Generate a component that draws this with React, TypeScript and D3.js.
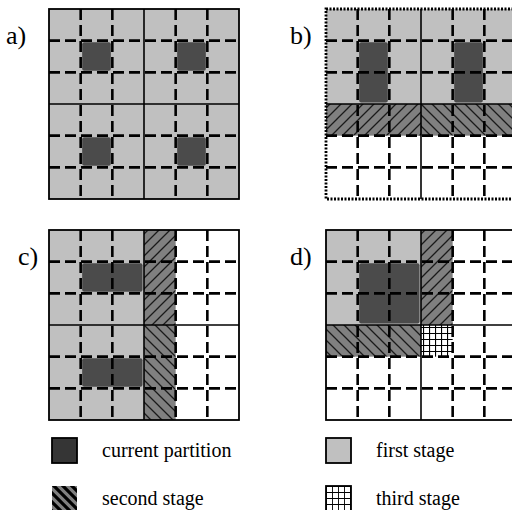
import React from "react";
import * as d3 from "d3";

type Rect = [number, number, number, number];

const panelLabels = ["a)", "b)", "c)", "d)"];
const panelOrigins: [number, number][] = [[49, 9], [326, 9], [49, 230], [326, 230]];
const labelPos: [number, number][] = [[6, 44], [290, 44], [18, 265], [290, 265]];

const greyRects: Rect[][] = [
  [[0, 0, 6, 6]],
  [[0, 0, 6, 3]],
  [[0, 0, 3, 6]],
  [[0, 0, 3, 3]],
];
const hatchFwdRects: Rect[][] = [[], [[0, 3, 3, 4]], [[3, 0, 4, 3]], [[3, 0, 4, 3]]];
const hatchBackRects: Rect[][] = [[], [[3, 3, 6, 4]], [[3, 3, 4, 6]], [[0, 3, 3, 4]]];
const crossRects: Rect[][] = [[], [], [], [[3, 3, 4, 4]]];
const darkRects: Rect[][] = [
  [[1, 1, 2, 2], [4, 1, 5, 2], [1, 4, 2, 5], [4, 4, 5, 5]],
  [[1, 1, 2, 3], [4, 1, 5, 3]],
  [[1, 1, 3, 2], [1, 4, 3, 5]],
  [[1, 1, 3, 3]],
];
const dottedBorder = [false, true, false, false];
const dashedLines = [1, 2, 4, 5];

const legendLabels = ["current partition", "first stage", "second stage", "third stage"];
const legendFills = ["#353535", "#c0c0c0", "url(#legHatch)", "url(#legCross)"];
const legendPos: [number, number][] = [[52, 438], [326, 438], [52, 486], [326, 486]];

const SIZE = 190;
const GREY = "#c0c0c0";
const DARK = "#4b4b4b";

export default function App() {
  const s = d3.scaleLinear().domain([0, 6]).range([0, SIZE]);
  const rectEl = (r: Rect, fill: string, key: string, inset = 0) => (
    <rect
      key={key}
      x={s(r[0]) + inset}
      y={s(r[1]) + inset}
      width={s(r[2]) - s(r[0]) - 2 * inset}
      height={s(r[3]) - s(r[1]) - 2 * inset}
      fill={fill}
      rx={inset ? 2 : 0}
    />
  );
  return (
    <svg width={512} height={510} style={{ position: "absolute", left: 0, top: 0 }}>
      <defs>
        <pattern id="hatchFwd" patternUnits="userSpaceOnUse" width={11} height={11}>
          <rect width={11} height={11} fill="#808080" />
          <path d="M-2,2 L2,-2 M0,11 L11,0 M9,13 L13,9" stroke="#1a1a1a" strokeWidth={1.3} />
        </pattern>
        <pattern id="hatchBack" patternUnits="userSpaceOnUse" width={11} height={11}>
          <rect width={11} height={11} fill="#808080" />
          <path d="M-2,9 L2,13 M0,0 L11,11 M9,-2 L13,2" stroke="#1a1a1a" strokeWidth={1.3} />
        </pattern>
        <pattern id="cross" patternUnits="userSpaceOnUse" width={6} height={6} x={1} y={1}>
          <rect width={6} height={6} fill="#fff" />
          <path d="M0,0 L0,6 M0,0 L6,0" stroke="#000" strokeWidth={2.2} />
        </pattern>
        <pattern id="legHatch" patternUnits="userSpaceOnUse" width={9} height={9}>
          <rect width={9} height={9} fill="#808080" />
          <path d="M-3,6 L3,12 M0,0 L9,9 M6,-3 L12,3" stroke="#000" strokeWidth={3.2} />
        </pattern>
        <pattern id="legCross" patternUnits="userSpaceOnUse" width={6} height={6} x={326} y={486}>
          <rect width={6} height={6} fill="#fff" />
          <path d="M0,0 L0,6 M0,0 L6,0" stroke="#000" strokeWidth={1.8} />
        </pattern>
      </defs>
      {panelOrigins.map(([ox, oy], i) => (
        <g key={i} transform={`translate(${ox},${oy})`}>
          <rect width={SIZE} height={SIZE} fill="#fff" />
          {greyRects[i].map((r, j) => rectEl(r, GREY, `g${j}`))}
          {hatchFwdRects[i].map((r, j) => rectEl(r, "url(#hatchFwd)", `hf${j}`))}
          {hatchBackRects[i].map((r, j) => rectEl(r, "url(#hatchBack)", `hb${j}`))}
          {crossRects[i].map((r, j) => rectEl(r, "url(#cross)", `c${j}`))}
          {darkRects[i].map((r, j) => rectEl(r, DARK, `d${j}`, 1.5))}
          {dashedLines.map((k) => (
            <g key={`dl${k}`} stroke="#000" strokeWidth={2.6} strokeDasharray="11,5">
              <line x1={s(k)} x2={s(k)} y1={0} y2={SIZE} />
              <line y1={s(k)} y2={s(k)} x1={0} x2={SIZE} />
            </g>
          ))}
          <line x1={s(3)} x2={s(3)} y1={0} y2={SIZE} stroke="#000" strokeWidth={1.6} />
          <line y1={s(3)} y2={s(3)} x1={0} x2={SIZE} stroke="#000" strokeWidth={1.6} />
          <rect
            width={SIZE}
            height={SIZE}
            fill="none"
            stroke="#000"
            strokeWidth={dottedBorder[i] ? 2.8 : 1.8}
            strokeDasharray={dottedBorder[i] ? "2,1.5" : undefined}
          />
        </g>
      ))}
      {panelLabels.map((t, i) => (
        <text key={t} x={labelPos[i][0]} y={labelPos[i][1]} fontFamily="Liberation Serif, serif" fontSize={26}>
          {t}
        </text>
      ))}
      {legendLabels.map((t, i) => (
        <g key={t}>
          <rect
            x={legendPos[i][0]}
            y={legendPos[i][1]}
            width={25}
            height={25}
            fill={legendFills[i]}
            stroke={i === 2 ? "none" : "#000"}
            strokeWidth={1.8}
          />
          <text x={legendPos[i][0] + 50} y={legendPos[i][1] + 19} fontFamily="Liberation Serif, serif" fontSize={20}>
            {t}
          </text>
        </g>
      ))}
    </svg>
  );
}
